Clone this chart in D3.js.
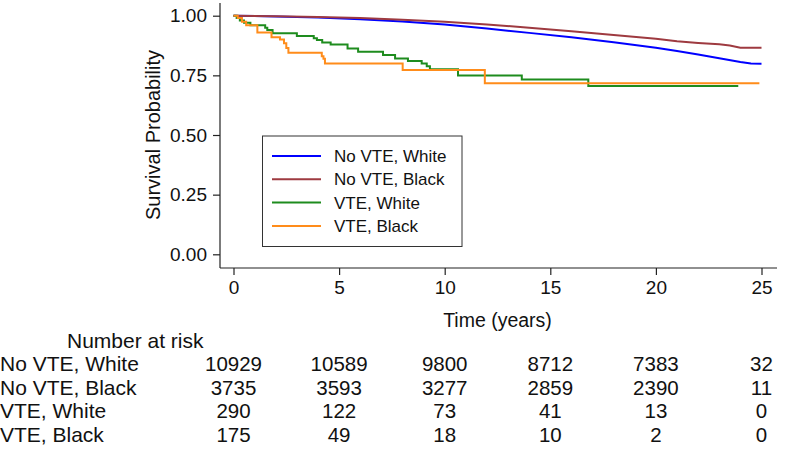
<!DOCTYPE html>
<html>
<head>
<meta charset="utf-8">
<script src="https://cdn.jsdelivr.net/npm/d3@7"></script>
<style>
  html, body { margin: 0; padding: 0; background: #fff; }
  svg { display: block; font-family: "Liberation Sans", Arial, sans-serif; }
</style>
</head>
<body>
<svg id="chart" width="800" height="455"></svg>
<script>
// ---------------- DATA ----------------
const seriesNames = ["No VTE, White", "No VTE, Black", "VTE, White", "VTE, Black"];
const seriesColors = ["#0000FF", "#9E3A40", "#1E8C1E", "#FF8C1A"];

// No VTE, White (time in years, survival probability)
const noVteWhiteT = [0, 2, 4, 6, 8, 10, 12, 14, 16, 18, 20, 21, 22, 23, 24, 24.5, 25];
const noVteWhiteS = [1.0, 0.997, 0.992, 0.985, 0.976, 0.963, 0.946, 0.928, 0.910, 0.889, 0.866, 0.852, 0.837, 0.822, 0.806, 0.800, 0.799];

// No VTE, Black
const noVteBlackT = [0, 2, 4, 6, 8, 10, 12, 14, 16, 18, 20, 21, 22, 23, 23.5, 24, 25];
const noVteBlackS = [1.0, 0.998, 0.995, 0.990, 0.983, 0.975, 0.963, 0.950, 0.935, 0.919, 0.903, 0.893, 0.886, 0.880, 0.875, 0.866, 0.866];

// VTE, White (step function)
const vteWhiteT = [0, 0.15, 0.3, 0.5, 0.8, 1.5, 1.6, 1.85, 3.0, 3.8, 3.95, 4.2, 4.6, 5.4, 5.9, 7.08, 7.65, 8.26, 8.91, 9.15, 9.3, 10.63, 13.65, 16.8, 23.9];
const vteWhiteS = [1.0, 0.99, 0.98, 0.97, 0.96, 0.95, 0.94, 0.926, 0.915, 0.905, 0.898, 0.888, 0.879, 0.863, 0.849, 0.835, 0.821, 0.810, 0.800, 0.788, 0.776, 0.749, 0.733, 0.705, 0.705];

// VTE, Black (step function)
const vteBlackT = [0, 0.2, 0.4, 0.6, 1.13, 1.8, 2.2, 2.39, 2.5, 2.6, 4.18, 4.26, 4.33, 8.01, 11.9, 24.9];
const vteBlackS = [1.0, 0.99, 0.975, 0.96, 0.93, 0.91, 0.90, 0.885, 0.865, 0.845, 0.83, 0.82, 0.80, 0.772, 0.717, 0.717];

// Axis ticks
const xTicks = [0, 5, 10, 15, 20, 25];
const yTicks = [0, 0.25, 0.5, 0.75, 1.0];

// Number at risk table
const riskTimes = [0, 5, 10, 15, 20, 25];
const riskNoVteWhite = [10929, 10589, 9800, 8712, 7383, 32];
const riskNoVteBlack = [3735, 3593, 3277, 2859, 2390, 11];
const riskVteWhite = [290, 122, 73, 41, 13, 0];
const riskVteBlack = [175, 49, 18, 10, 2, 0];

// ---------------- CHART ----------------
const svg = d3.select("#chart");
const x = d3.scaleLinear().domain([0, 25]).range([233.5, 761.5]);
const y = d3.scaleLinear().domain([0, 1]).range([254.3, 15.7]);

const axisX0 = 220, axisY0 = 268, axisTop = 3, axisRight = 777;
const axisColor = "#222";

// axis lines
svg.append("line").attr("x1", axisX0).attr("x2", axisX0).attr("y1", axisTop).attr("y2", axisY0)
  .attr("stroke", axisColor).attr("stroke-width", 1.2);
svg.append("line").attr("x1", axisX0).attr("x2", axisRight).attr("y1", axisY0).attr("y2", axisY0)
  .attr("stroke", axisColor).attr("stroke-width", 1.2);

// y axis
const yAxis = svg.append("g").attr("transform", `translate(${axisX0},0)`)
  .call(d3.axisLeft(y).tickValues(yTicks).tickFormat(d3.format(".2f")).tickSize(7).tickPadding(6));
yAxis.select(".domain").remove();
yAxis.selectAll("line").attr("stroke", axisColor).attr("stroke-width", 1.2);
yAxis.selectAll("text").attr("font-size", 19).attr("fill", "#111").attr("font-family", "Liberation Sans, Arial, sans-serif");

// x axis
const xAxis = svg.append("g").attr("transform", `translate(0,${axisY0})`)
  .call(d3.axisBottom(x).tickValues(xTicks).tickFormat(d3.format("d")).tickSize(7).tickPadding(6));
xAxis.select(".domain").remove();
xAxis.selectAll("line").attr("stroke", axisColor).attr("stroke-width", 1.2);
xAxis.selectAll("text").attr("font-size", 19).attr("fill", "#111").attr("font-family", "Liberation Sans, Arial, sans-serif");

// axis titles
svg.append("text").attr("x", (x(0) + x(25)) / 2).attr("y", 327).attr("text-anchor", "middle")
  .attr("font-size", 19.5).attr("fill", "#111").text("Time (years)");
svg.append("text").attr("transform", `translate(160,${(y(0) + y(1)) / 2}) rotate(-90)`)
  .attr("text-anchor", "middle").attr("font-size", 20).attr("fill", "#111").text("Survival Probability");

// curves
const series = [
  { t: noVteWhiteT, s: noVteWhiteS, curve: d3.curveLinear },
  { t: noVteBlackT, s: noVteBlackS, curve: d3.curveLinear },
  { t: vteWhiteT, s: vteWhiteS, curve: d3.curveStepAfter },
  { t: vteBlackT, s: vteBlackS, curve: d3.curveStepAfter }
];
series.forEach((d, i) => {
  const pts = d.t.map((tv, k) => [tv, d.s[k]]);
  const line = d3.line().x(p => x(p[0])).y(p => y(p[1])).curve(d.curve);
  svg.append("path").attr("d", line(pts)).attr("fill", "none")
    .attr("stroke", seriesColors[i]).attr("stroke-width", 2);
});

// legend
const lg = svg.append("g");
lg.append("rect").attr("x", 262.5).attr("y", 136).attr("width", 199.5).attr("height", 110.5)
  .attr("fill", "#fff").attr("stroke", "#333").attr("stroke-width", 1);
seriesNames.forEach((name, i) => {
  const yy = 156 + i * 23.3;
  lg.append("line").attr("x1", 272).attr("x2", 321).attr("y1", yy).attr("y2", yy)
    .attr("stroke", seriesColors[i]).attr("stroke-width", 2);
  lg.append("text").attr("x", 334).attr("y", yy + 6).attr("font-size", 17).attr("fill", "#111").text(name);
});

// number at risk table
svg.append("text").attr("x", 67).attr("y", 348).attr("font-size", 21).attr("fill", "#111").text("Number at risk");
const riskRows = [riskNoVteWhite, riskNoVteBlack, riskVteWhite, riskVteBlack];
riskRows.forEach((row, i) => {
  const yy = 371 + i * 23.5;
  svg.append("text").attr("x", 0).attr("y", yy).attr("font-size", 21).attr("fill", "#111").text(seriesNames[i]);
  row.forEach((v, j) => {
    svg.append("text").attr("x", x(riskTimes[j])).attr("y", yy).attr("text-anchor", "middle")
      .attr("font-size", 20.5).attr("fill", "#111").text(v);
  });
});
</script>
</body>
</html>
